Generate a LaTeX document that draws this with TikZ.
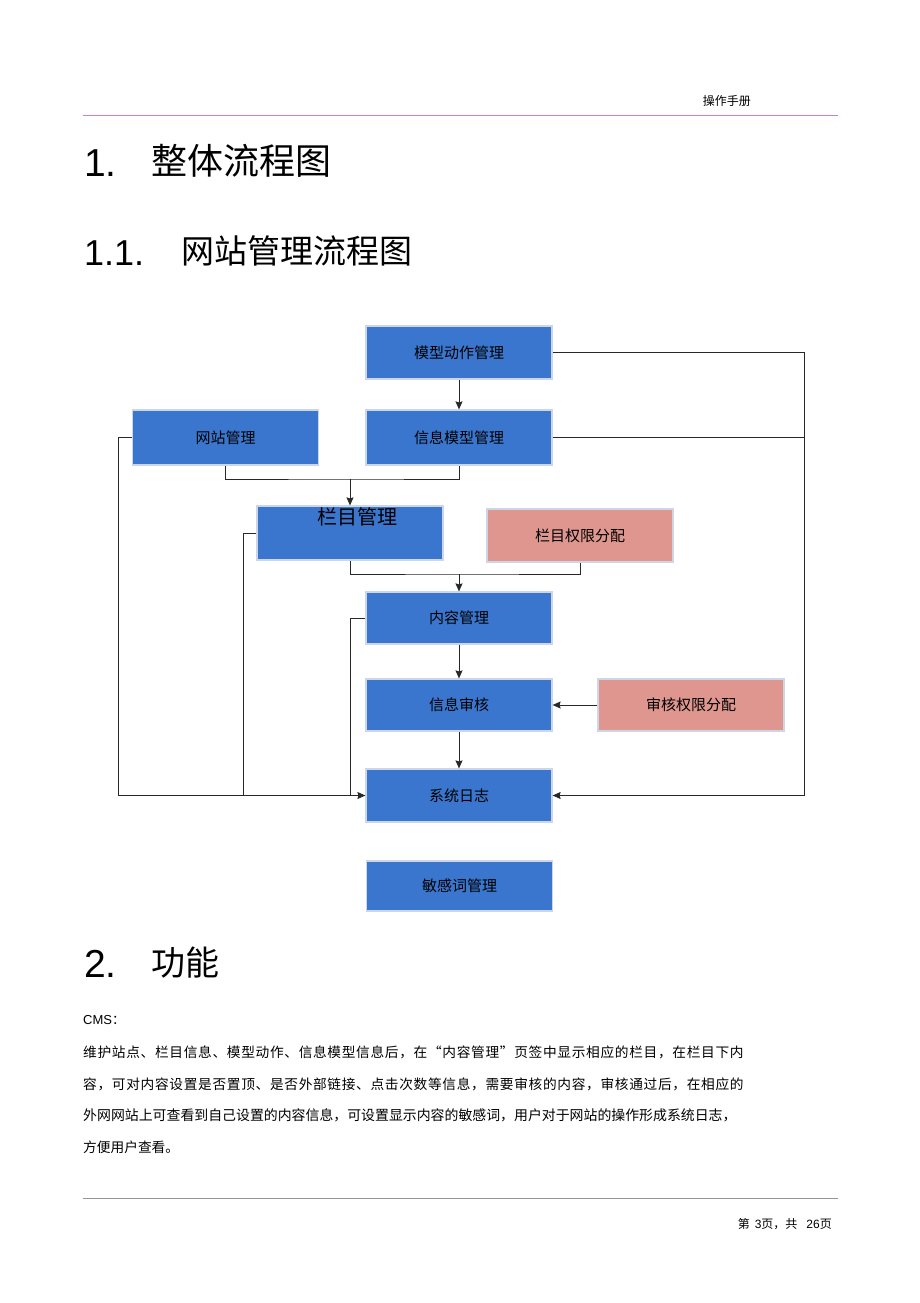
\documentclass[tikz,border=0pt]{standalone}
\usepackage{fontspec}
\setmainfont{Liberation Sans}
\newfontfamily\cjk{Noto Sans CJK SC}
\usetikzlibrary{arrows.meta}
\definecolor{boxblue}{RGB}{58,118,206}
\definecolor{boxpink}{RGB}{222,150,142}
\definecolor{boxedge}{RGB}{205,214,230}
\definecolor{hdrline}{RGB}{200,130,200}
\definecolor{ftrline}{RGB}{150,150,150}
\definecolor{conn}{RGB}{40,40,40}
\tikzset{
  box/.style={fill=boxblue, draw=boxedge, line width=1.2pt, minimum width=186pt, minimum height=53pt, inner sep=0pt, font=\cjk\fontsize{15}{18}\selectfont},
  pinkbox/.style={box, fill=boxpink},
  conline/.style={draw=conn, line width=0.9pt},
  arr/.style={conline, -{Stealth[length=8pt,width=7pt,inset=1pt]}},
  para/.style={anchor=west, inner sep=0pt, font=\cjk\fontsize{13.7}{16}\selectfont},
}
\begin{document}
\begin{tikzpicture}[x=1pt,y=-1pt]
\useasboundingbox (0,0) rectangle (920,1303);
% header
\node[anchor=east, inner sep=0pt, font=\cjk\fontsize{12}{14}\selectfont] (hdr) at (751,101) {操作手册};
\draw[hdrline, line width=0.9pt] (83,115) -- (838,115);
% headings
\node[anchor=base west, inner sep=0pt, font=\fontsize{39}{44}\selectfont] (h1n) at (84,176) {1.};
\node[anchor=base west, inner sep=0pt, font=\cjk\fontsize{36}{40}\selectfont] (h1t) at (151,174) {整体流程图};
\node[anchor=base west, inner sep=0pt, font=\fontsize{36}{40}\selectfont] (h11n) at (84,265) {1.1.};
\node[anchor=base west, inner sep=0pt, font=\cjk\fontsize{33}{38}\selectfont] (h11t) at (181,263) {网站管理流程图};
\node[anchor=base west, inner sep=0pt, font=\fontsize{39}{44}\selectfont] (h2n) at (84,977) {2.};
\node[anchor=base west, inner sep=0pt, font=\cjk\fontsize{34}{40}\selectfont] (h2t) at (151,975) {功能};
% boxes
\node[box] (mx) at (459,352.5) {模型动作管理};
\node[box, minimum height=55pt] (wz) at (225.5,437.5) {网站管理};
\node[box, minimum height=55pt] (xx) at (459,437.5) {信息模型管理};
\node[box, minimum height=54pt] (lm) at (350,533) {};
\node[anchor=center, inner sep=0pt, font=\cjk\fontsize{20}{24}\selectfont] (lmt) at (357,517) {栏目管理};
\node[pinkbox] (lq) at (580,535.5) {栏目权限分配};
\node[box, minimum height=52pt] (nr) at (459,618) {内容管理};
\node[box, minimum height=52pt] (sh) at (459,705) {信息审核};
\node[pinkbox, minimum height=52pt] (sq) at (691,705) {审核权限分配};
\node[box] (rz) at (459,795.5) {系统日志};
\node[box, minimum height=50pt] (mg) at (459.5,886) {敏感词管理};
% connectors
\coordinate (c1) at (350,479);
\coordinate (c2) at (459,574);
\coordinate (L1) at (118,795.5);
\coordinate (L2) at (243,795.5);
\coordinate (L3) at (350,795.5);
\coordinate (R1) at (804,795.5);
\draw[arr] (mx.south) -- (xx.north);
\draw[conline] (wz.south) |- (c1) -| (xx.south);
\draw[arr] (c1) -- (lm.north);
\draw[conline] (lm.south) |- (c2) -| (lq.south);
\draw[arr] (c2) -- (nr.north);
\draw[arr] (nr.south) -- (sh.north);
\draw[arr] (sh.south) -- (rz.north);
\draw[arr] (sq.west) -- (sh.east);
\draw[conline] (wz.west) -| (L1);
\draw[conline] (lm.west) -| (L2);
\draw[conline] (nr.west) -| (L3);
\draw[arr] (L1) -- (rz.west);
\draw[conline] (mx.east) -| (R1);
\draw[conline] (xx.east) -- (xx.east -| R1);
\draw[arr] (R1) -- (rz.east);
% text
\node[anchor=west, inner sep=0pt, font=\fontsize{13}{16}\selectfont] (cms) at (83,1020) {CMS{\cjk ：}};
\node[para] (p1) at (83,1052) {\addfontfeature{LetterSpace=4.9}维护站点、栏目信息、模型动作、信息模型信息后，在“内容管理”页签中显示相应的栏目，在栏目下内};
\node[para] (p2) at (83,1084) {\addfontfeature{LetterSpace=4.9}容，可对内容设置是否置顶、是否外部链接、点击次数等信息，需要审核的内容，审核通过后，在相应的};
\node[para, font=\cjk\fontsize{13.9}{16}\selectfont] (p3) at (83,1115) {外网网站上可查看到自己设置的内容信息，可设置显示内容的敏感词，用户对于网站的操作形成系统日志，};
\node[para] (p4) at (83,1147) {方便用户查看。};
% footer
\draw[ftrline, line width=0.6pt] (83,1198) -- (838,1198);
\node[anchor=east, inner sep=0pt, font=\cjk\fontsize{12}{14}\selectfont] (ftr) at (832,1224) {第\hspace{5pt}{\rmfamily 3}页，共\hspace{9pt}{\rmfamily 26}页};
\end{tikzpicture}
\end{document}
